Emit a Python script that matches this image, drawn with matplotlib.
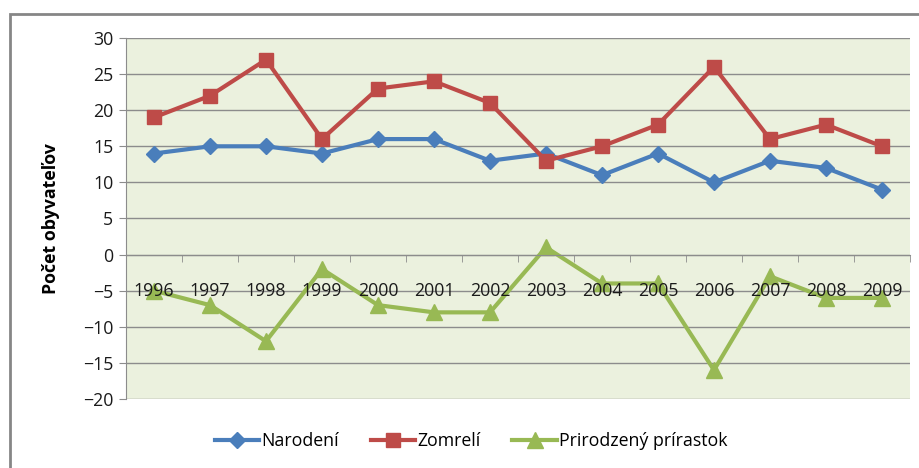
import matplotlib
matplotlib.use('Agg')
import matplotlib.pyplot as plt
from matplotlib.patches import Rectangle
from matplotlib.ticker import FixedLocator

# data
years = ['1996', '1997', '1998', '1999', '2000', '2001', '2002',
         '2003', '2004', '2005', '2006', '2007', '2008', '2009']
narodeni = [14, 15, 15, 14, 16, 16, 13, 14, 11, 14, 10, 13, 12, 9]
zomreli = [19, 22, 27, 16, 23, 24, 21, 13, 15, 18, 26, 16, 18, 15]
prirastok = [-5, -7, -12, -2, -7, -8, -8, 1, -4, -4, -16, -3, -6, -6]
yticks = [-20, -15, -10, -5, 0, 5, 10, 15, 20, 25, 30]

plt.rcParams['font.family'] = ['Open Sans', 'DejaVu Sans']

fig = plt.figure(figsize=(9.19, 4.68), dpi=100)
ax = fig.add_axes([126/919, 69/468, 784/919, 361/468])
ax.set_facecolor('#EBF1DE')

x = list(range(len(years)))
ax.plot(x, narodeni, color='#4A7EBB', lw=3, marker='D', ms=8, label='Narodení', zorder=2)
ax.plot(x, zomreli, color='#BE4B48', lw=3, marker='s', ms=10, label='Zomrelí', zorder=2)
ax.plot(x, prirastok, color='#98B954', lw=3, marker='^', ms=11, label='Prirodzený prírastok', zorder=2)

ax.set_xlim(-0.5, len(years) - 0.5)
ax.set_ylim(-20, 30)
ax.set_yticks(yticks)
ax.grid(axis='y', color='#8C8C8C', lw=1)

for s in ['top', 'right']:
    ax.spines[s].set_visible(False)
ax.spines['left'].set_color('#8C8C8C')
ax.spines['bottom'].set_position(('data', 0))
ax.spines['bottom'].set_color('#8C8C8C')

ax.set_xticks(x)
ax.set_xticklabels([])
ax.tick_params(axis='x', which='major', length=0)
ax.xaxis.set_minor_locator(FixedLocator([i + 0.5 for i in range(-1, len(years))]))
ax.tick_params(axis='x', which='minor', length=5, color='#8C8C8C', direction='out')
ax.tick_params(axis='y', length=5, color='#8C8C8C', labelsize=12.8, labelcolor='#1a1a1a', pad=4)

# category labels on an overlay axis so they sit on top of the lines
ax2 = ax.twiny()
ax2.set_xlim(ax.get_xlim())
ax2.patch.set_visible(False)
for s in ax2.spines.values():
    s.set_visible(False)
ax2.xaxis.set_ticks_position('bottom')
ax2.xaxis.set_label_position('bottom')
ax2.spines['bottom'].set_position(('data', 0))
ax2.set_xticks(x)
ax2.set_xticklabels(years)
ax2.tick_params(axis='x', length=0, pad=20, labelsize=12.8, labelcolor='#1a1a1a')

ax.set_ylabel('Počet obyvateľov', fontsize=12.8, fontweight='bold', labelpad=17)

fig.legend(*ax.get_legend_handles_labels(), loc='center', bbox_to_anchor=(471/919, 27/468),
           ncol=3, frameon=False, fontsize=12.8, handlelength=2.5, columnspacing=1.8,
           handletextpad=0.1)

fig.add_artist(Rectangle((10/919, -0.1), 1.0, 1.1 - 14/468, transform=fig.transFigure,
                         fill=False, edgecolor='#868686', lw=2, clip_on=False))

fig.savefig('out.png', dpi=100)
